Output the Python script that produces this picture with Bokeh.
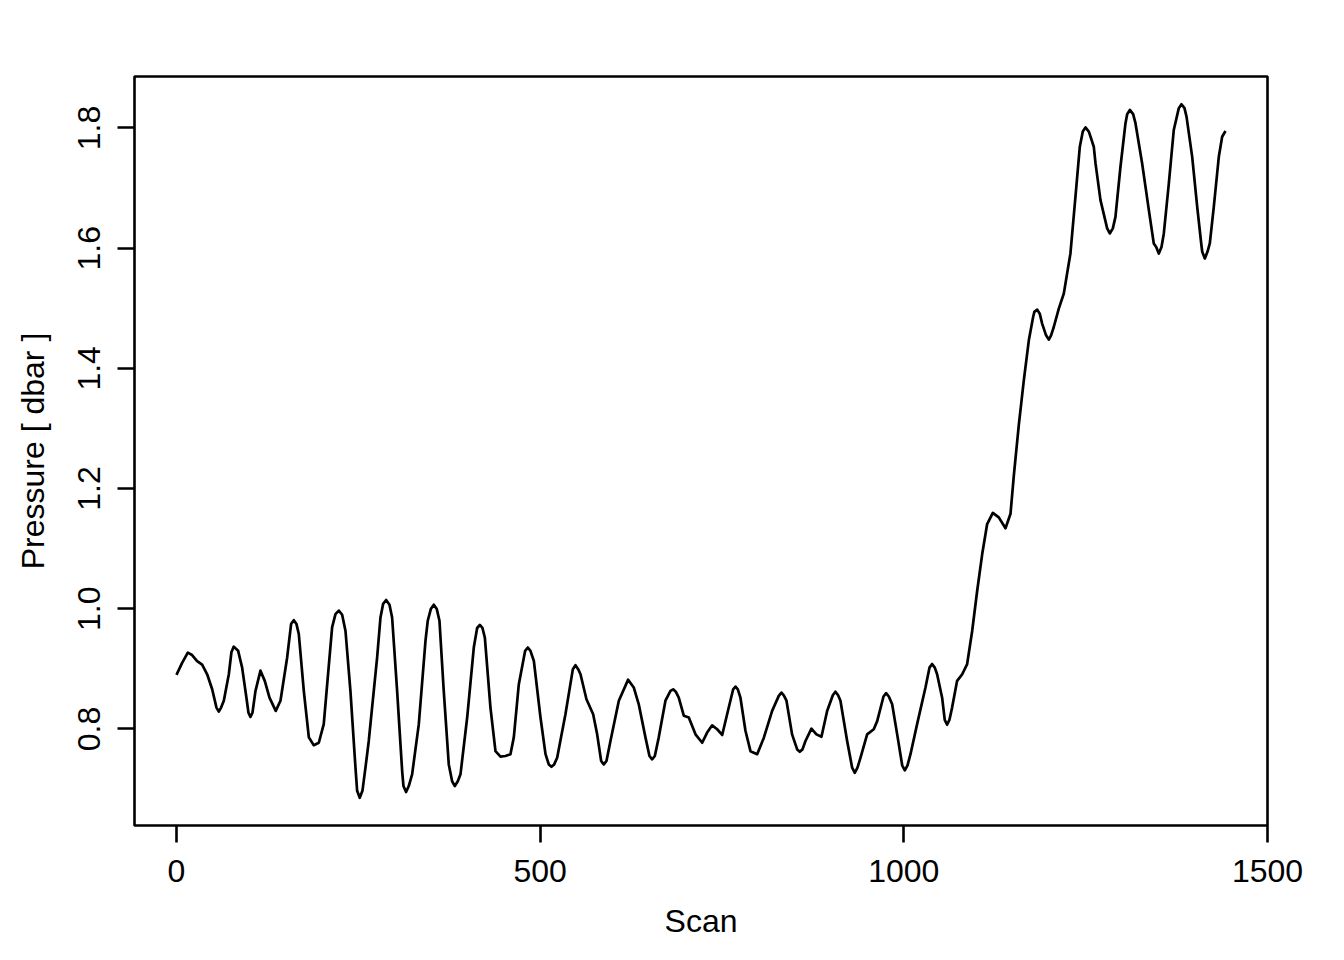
from bokeh.plotting import figure
from bokeh.models import Range1d, FixedTicker
from bokeh.embed import file_html
from bokeh.resources import INLINE

scan = [0, 7.8, 15.6, 21.5, 28.4, 35.3, 42.2, 49.1, 55.0, 58.2, 61.4, 65.1, 72.0, 75.6, 78.8,
        84.8, 90.3, 96.2, 99.0, 101.7, 104.5, 108.6, 115.5, 121.4, 127.9, 136.5, 143.0, 152.2,
        157.6, 161.3, 165.0, 168.2, 175.1, 182.0, 188.8, 195.7, 202.5, 214.0, 218.6, 223.2,
        227.8, 232.4, 239.2, 246.1, 248.4, 252.0, 255.7, 259.9, 264.4, 275.9, 280.5, 284.1,
        288.3, 292.9, 296.5, 303.4, 310.3, 312.1, 315.7, 319.4, 324.0, 333.2, 342.4, 345.5,
        349.7, 353.8, 357.9, 361.6, 367.5, 374.4, 379.0, 382.7, 386.8, 390.5, 399.7, 408.8,
        413.4, 417.1, 420.7, 424.0, 431.7, 438.6, 445.5, 452.3, 459.2, 463.8, 470.7, 479.4,
        483.1, 486.7, 491.4, 500.5, 507.4, 511.9, 515.6, 519.3, 523.4, 534.8, 545.0, 548.6,
        552.3, 555.5, 563.7, 572.9, 578.4, 583.9, 587.5, 591.2, 596.7, 608.2, 621.0, 628.7,
        635.6, 644.8, 650.3, 654.0, 657.7, 663.1, 672.3, 679.2, 682.9, 686.5, 690.6, 697.5,
        704.4, 713.6, 722.8, 729.6, 736.5, 743.4, 750.3, 757.1, 765.4, 768.6, 771.8, 775.4,
        782.3, 789.2, 798.4, 807.6, 819.0, 828.1, 831.8, 835.0, 838.7, 846.4, 853.4, 857.0,
        860.7, 864.8, 873.0, 879.9, 886.8, 894.6, 902.4, 906.0, 909.7, 912.9, 922.1, 929.0,
        932.6, 936.3, 940.4, 949.6, 958.7, 963.4, 972.1, 975.7, 979.4, 984.0, 990.9, 997.8,
        1001.4, 1005.1, 1009.2, 1018.3, 1029.8, 1035.3, 1038.9, 1042.6, 1045.8, 1052.7, 1056.3,
        1059.5, 1062.7, 1066.4, 1073.3, 1080.3, 1087.1, 1094.0, 1100.9, 1107.8, 1114.6, 1122.4,
        1130.6, 1139.8, 1146.7, 1151.3, 1158.1, 1165.0, 1171.9, 1177.8, 1179.5, 1183.4, 1186.9,
        1190.2, 1195.6, 1199.4, 1202.5, 1206.2, 1213.1, 1220.0, 1229.1, 1236.0, 1242.0, 1246.1,
        1249.8, 1254.4, 1256.7, 1261.2, 1263.6, 1270.4, 1279.6, 1283.2, 1287.4, 1291.0, 1297.9,
        1304.8, 1307.1, 1310.8, 1315.3, 1318.5, 1327.7, 1336.9, 1343.7, 1347.0, 1350.6, 1354.3,
        1357.5, 1364.4, 1371.2, 1378.1, 1381.8, 1385.9, 1388.7, 1396.5, 1403.4, 1408.9, 1410.3,
        1413.9, 1417.5, 1420.7, 1426.2, 1433.1, 1437.7, 1442.3]

pressure = [0.890, 0.910, 0.927, 0.923, 0.913, 0.907, 0.891, 0.866, 0.8355, 0.829, 0.8355, 0.847,
            0.891, 0.928, 0.937, 0.930, 0.902, 0.852, 0.827, 0.820, 0.827, 0.863, 0.897, 0.880,
            0.852, 0.830, 0.847, 0.919, 0.9745, 0.981, 0.9745, 0.958, 0.863, 0.786, 0.773, 0.777,
            0.808, 0.969, 0.991, 0.997, 0.990, 0.963, 0.863, 0.736, 0.697, 0.6855, 0.697, 0.736,
            0.780, 0.919, 0.9855, 1.008, 1.0145, 1.0067, 0.9855, 0.863, 0.730, 0.705, 0.695,
            0.705, 0.7245, 0.808, 0.947, 0.980, 0.9995, 1.0067, 0.9995, 0.980, 0.863, 0.741,
            0.713, 0.705, 0.713, 0.7245, 0.819, 0.9355, 0.968, 0.973, 0.968, 0.952, 0.8355,
            0.763, 0.754, 0.755, 0.758, 0.786, 0.8745, 0.930, 0.9355, 0.930, 0.913, 0.819, 0.758,
            0.741, 0.737, 0.741, 0.752, 0.8245, 0.8995, 0.906, 0.8995, 0.891, 0.8495, 0.8245,
            0.791, 0.7467, 0.741, 0.7467, 0.780, 0.847, 0.882, 0.869, 0.841, 0.786, 0.755,
            0.7495, 0.755, 0.786, 0.847, 0.8633, 0.866, 0.862, 0.852, 0.822, 0.819, 0.791,
            0.777, 0.794, 0.806, 0.7995, 0.790, 0.8245, 0.866, 0.8705, 0.866, 0.852, 0.797,
            0.763, 0.758, 0.7855, 0.830, 0.855, 0.8605, 0.856, 0.847, 0.791, 0.766, 0.762,
            0.766, 0.780, 0.8005, 0.791, 0.787, 0.830, 0.856, 0.862, 0.856, 0.847, 0.780,
            0.7355, 0.727, 0.7355, 0.752, 0.791, 0.7995, 0.813, 0.854, 0.8595, 0.854, 0.841,
            0.791, 0.7395, 0.731, 0.7395, 0.758, 0.808, 0.869, 0.902, 0.908, 0.902, 0.891,
            0.852, 0.815, 0.807, 0.815, 0.8355, 0.880, 0.891, 0.908, 0.963, 1.030, 1.091,
            1.141, 1.1595, 1.152, 1.134, 1.158, 1.222, 1.3055, 1.380, 1.4467, 1.4855, 1.494,
            1.4978, 1.491, 1.4745, 1.455, 1.4478, 1.455, 1.4688, 1.4995, 1.5245, 1.5912, 1.6855,
            1.7688, 1.794, 1.801, 1.794, 1.7855, 1.7688, 1.741, 1.680, 1.633, 1.6245, 1.633,
            1.652, 1.7355, 1.808, 1.823, 1.830, 1.823, 1.808, 1.741, 1.6633, 1.6078, 1.602,
            1.591, 1.602, 1.6245, 1.7078, 1.7967, 1.833, 1.8395, 1.833, 1.8188, 1.752, 1.6688,
            1.6078, 1.594, 1.583, 1.594, 1.6078, 1.6688, 1.752, 1.7855, 1.795]

x_ticks = [0, 500, 1000, 1500]
x_tick_labels = ["0", "500", "1000", "1500"]
y_ticks = [0.8, 1.0, 1.2, 1.4, 1.6, 1.8]
y_tick_labels = ["0.8", "1.0", "1.2", "1.4", "1.6", "1.8"]
x_title = "Scan"
y_title = "Pressure [ dbar ]"

FONT = "Liberation Sans"
FS = "32px"

xspan = max(scan) - min(scan)
yspan = max(pressure) - min(pressure)
xr = Range1d(min(scan) - 0.04 * xspan, max(scan) + 0.04 * xspan + 0.05)
yr = Range1d(min(pressure) - 0.04 * yspan, max(pressure) + 0.04 * yspan)

p = figure(frame_width=1133, frame_height=749, x_range=xr, y_range=yr,
           output_backend="svg", toolbar_location=None,
           min_border_left=134, min_border_right=77, min_border_top=76, min_border_bottom=135)
p.background_fill_color = "white"
p.border_fill_color = "white"
p.outline_line_color = "black"
p.outline_line_width = 2.6
p.grid.visible = False

p.line(scan, pressure, line_color="black", line_width=2.7, line_join="round")

for ax, ticks, labels, title in ((p.xaxis[0], x_ticks, x_tick_labels, x_title),
                                 (p.yaxis[0], y_ticks, y_tick_labels, y_title)):
    ax.ticker = FixedTicker(ticks=ticks)
    ax.major_label_overrides = {t: l for t, l in zip(ticks, labels)}
    ax.axis_line_color = None
    ax.major_tick_out = 17
    ax.major_tick_in = 0
    ax.major_tick_line_width = 2.6
    ax.major_tick_line_color = "black"
    ax.minor_tick_line_color = None
    ax.major_label_text_font = FONT
    ax.major_label_text_font_size = FS
    ax.major_label_text_color = "black"
    ax.axis_label = title
    ax.axis_label_text_font = FONT
    ax.axis_label_text_font_size = FS
    ax.axis_label_text_font_style = "normal"
    ax.axis_label_text_color = "black"

p.xaxis.major_label_standoff = 17
p.xaxis.axis_label_standoff = 18
p.yaxis.major_label_orientation = "parallel"
p.yaxis.major_label_standoff = 17
p.yaxis.axis_label_standoff = 25

open("out.html", "w").write(file_html(p, INLINE))
